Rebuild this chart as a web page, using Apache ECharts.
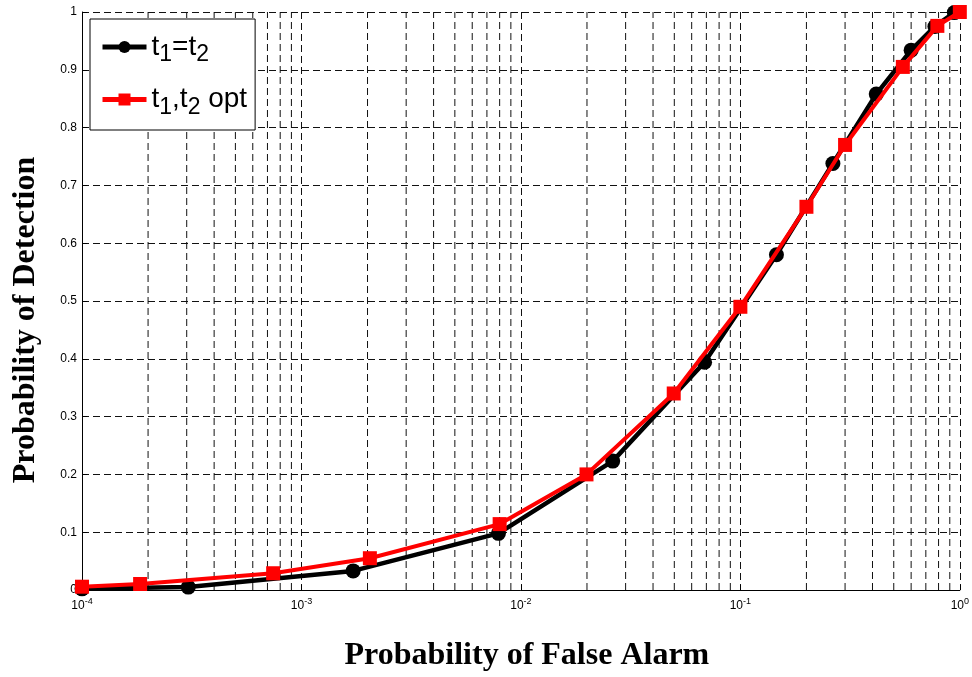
<!DOCTYPE html>
<html>
<head>
<meta charset="utf-8">
<script src="https://cdn.jsdelivr.net/npm/echarts@6/dist/echarts.min.js"></script>
<style>
  html, body { margin: 0; padding: 0; background: #fff; }
  #chart { width: 972px; height: 677px; }
</style>
</head>
<body>
<div id="chart"></div>
<script>
// ROC curves: probability of detection vs. probability of false alarm
const pfaEqual = [1e-4, 3.05e-4, 1.72e-3, 7.9e-3, 0.0262, 0.0687, 0.146, 0.264, 0.416, 0.600, 0.77, 0.944];
const pdEqual  = [0.002, 0.005, 0.033, 0.098, 0.223, 0.394, 0.580, 0.738, 0.858, 0.934, 0.975, 0.999];

const pfaOpt = [1e-4, 1.84e-4, 7.43e-4, 2.05e-3, 8.0e-3, 0.0199, 0.0497, 0.1, 0.2, 0.3, 0.55, 0.79, 1];
const pdOpt  = [0.0057, 0.0104, 0.029, 0.055, 0.114, 0.200, 0.340, 0.490, 0.663, 0.770, 0.905, 0.976, 1];

const seriesNames = ['t1=t2', 't1,t2 opt'];
const decades = [1e-4, 1e-3, 1e-2, 1e-1];
const minorSteps = [2, 3, 4, 5, 6, 7, 8, 9];

const dashStyle = { color: '#111', width: 1, type: [7, 4] };

// vertical grid lines at 2..9 within each decade, as broken segments from y=0 to y=1
const minorGrid = [];
decades.forEach(d => minorSteps.forEach(k => {
  const x = d * k;
  minorGrid.push([x, 0], [x, 1], [x, null]);
}));

const chart = echarts.init(document.getElementById('chart'));
chart.setOption({
  animation: false,
  backgroundColor: '#fff',
  grid: { left: 82, right: 11, top: 12, bottom: 87, containLabel: false },
  xAxis: {
    type: 'log', logBase: 10, min: 1e-4, max: 1,
    name: 'Probability of False Alarm',
    nameLocation: 'middle', nameGap: 50,
    nameTextStyle: { fontFamily: 'Liberation Serif', fontWeight: 'bold', fontSize: 32, color: '#000', padding: [0, 0, 0, 12] },
    axisLine: { show: true, onZero: false, lineStyle: { color: '#000', width: 1 } },
    axisTick: { show: true, inside: true, length: 5, lineStyle: { color: '#000' } },
    splitLine: { show: true, lineStyle: dashStyle },
    axisLabel: {
      color: '#000', margin: 7,
      formatter: v => '10{sup|' + Math.round(Math.log10(v)) + '}',
      rich: {
        sup: { fontSize: 9, fontFamily: 'Liberation Sans', color: '#000', padding: [0, 0, 9, 0] }
      },
      fontFamily: 'Liberation Sans', fontSize: 12
    }
  },
  yAxis: {
    type: 'value', min: 0, max: 1, interval: 0.1,
    name: 'Probability of Detection',
    nameLocation: 'middle', nameGap: 40,
    nameTextStyle: { fontFamily: 'Liberation Serif', fontWeight: 'bold', fontSize: 32, color: '#000', padding: [0, 38, 0, 0] },
    axisLine: { show: true, lineStyle: { color: '#000', width: 1 } },
    axisTick: { show: true, inside: true, length: 5, lineStyle: { color: '#000' } },
    splitLine: { show: true, lineStyle: dashStyle },
    axisLabel: {
      color: '#000', margin: 5, fontFamily: 'Liberation Sans', fontSize: 12,
      formatter: v => (Math.round(v * 10) / 10).toString()
    }
  },
  legend: {
    left: 90, top: 19, orient: 'vertical',
    padding: [14, 8, 11, 10],
    backgroundColor: '#fff', borderColor: '#000', borderWidth: 1,
    itemWidth: 44, itemHeight: 15, itemGap: 19,
    lineStyle: { width: 5 },
    textStyle: {
      fontFamily: 'Liberation Sans', fontSize: 28, color: '#000',
      rich: {
        s: { fontFamily: 'Liberation Sans', fontSize: 23, color: '#000', padding: [16, 0, 0, 0] }
      }
    },
    formatter: name => name.replace(/t(\d)/g, 't{s|$1}'),
    data: seriesNames
  },
  series: [
    {
      type: 'line', data: minorGrid, silent: true, z: 1,
      symbol: 'none', connectNulls: false,
      lineStyle: dashStyle
    },
    {
      name: seriesNames[0], type: 'line',
      data: pfaEqual.map((x, i) => [x, pdEqual[i]]),
      symbol: 'circle', symbolSize: 15,
      lineStyle: { color: '#000', width: 4.5 },
      itemStyle: { color: '#000' },
      z: 3
    },
    {
      name: seriesNames[1], type: 'line',
      data: pfaOpt.map((x, i) => [x, pdOpt[i]]),
      symbol: 'rect', symbolSize: 14,
      lineStyle: { color: '#ff0000', width: 4 },
      itemStyle: { color: '#ff0000' },
      z: 4
    }
  ]
});
</script>
</body>
</html>
